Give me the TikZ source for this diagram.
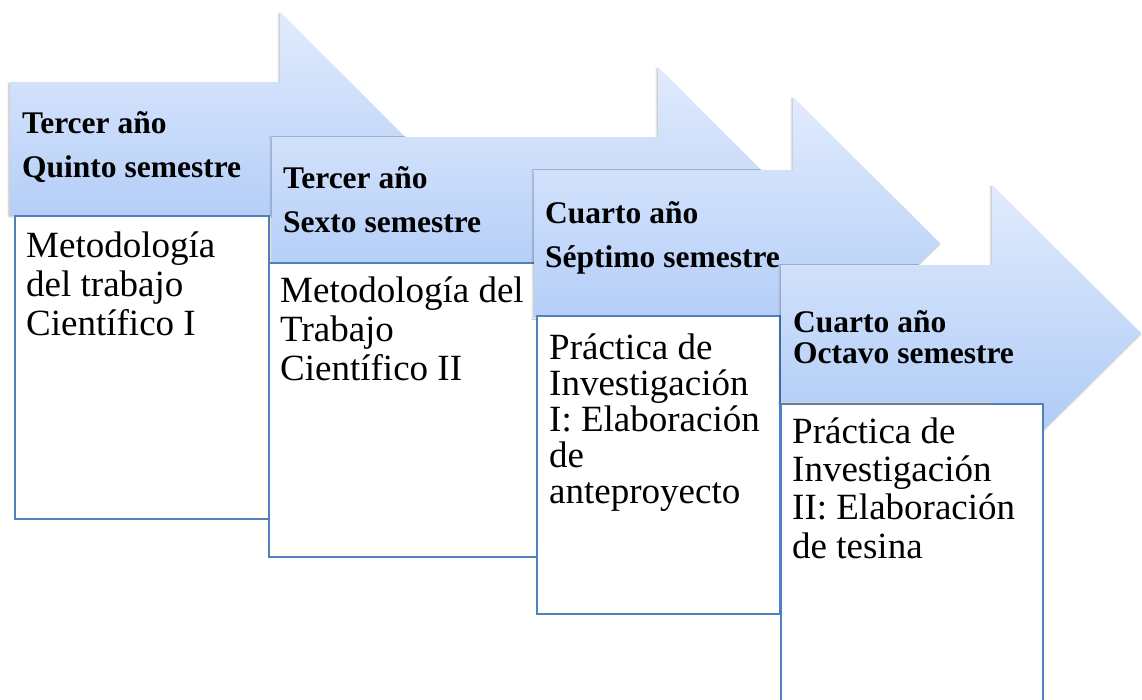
\documentclass[tikz,border=0pt]{standalone}
\usepackage{fontspec}
\setmainfont{Liberation Serif}
\usetikzlibrary{shadows.blur}
\definecolor{arrtop}{RGB}{225,235,253}
\definecolor{arrbot}{RGB}{166,197,246}
\definecolor{boxline}{RGB}{79,129,189}
\begin{document}
\begin{tikzpicture}[x=1pt,y=-1pt]
		\tikzstyle{stage}=[top color=arrtop,bottom color=arrbot,
			blur shadow={shadow xshift=-1pt,shadow yshift=-1.5pt,shadow blur radius=2pt,shadow opacity=30}];
		\tikzstyle{course}=[draw=boxline,line width=1.6pt,fill=white,anchor=north west,inner sep=0pt];
		\tikzstyle{head}=[anchor=base west,align=left,inner sep=0pt,font=\fontsize{31.5}{44}\selectfont\bfseries];
		\tikzstyle{subj}=[anchor=base west,align=left,inner sep=0pt,font=\fontsize{37}{39}\selectfont];
		\clip (0,0) rectangle (1142,699);
		% first year block (text nodes sit on their last baseline)
		\path[stage] (10,82) -- (280,82) -- (280,12) -- (416.5,148.5) -- (280,285) -- (280,215) -- (10,215) -- cycle;
		\node[course,minimum width=254pt,minimum height=303pt] (c1) at (14,215) {};
		\node[head] (h1) at (22,177) {Tercer año\\Quinto semestre};
		\node[subj] (t1) at (26,335) {Metodología\\del trabajo\\Científico I};
		% second block
		\path[stage] (272,137) -- (658,137) -- (658,67) -- (790.5,199.5) -- (658,332) -- (658,262) -- (272,262) -- cycle;
		\node[course,minimum width=268pt,minimum height=294pt] (c2) at (268,262) {};
		\node[head] (h2) at (283,232) {Tercer año\\Sexto semestre};
		\node[subj] (t2) at (280,380) {Metodología del\\Trabajo\\Científico II};
		% third block
		\path[stage] (534,170) -- (793,170) -- (793,97) -- (940,243) -- (793,389) -- (793,316) -- (534,316) -- cycle;
		\node[course,minimum width=243pt,minimum height=298pt] (c3) at (536,315) {};
		\node[head] (h3) at (545,267) {Cuarto año\\Séptimo semestre};
		\node[subj,font=\fontsize{37}{35.8}\selectfont] (t3) at (549,503) {Práctica de\\Investigación\\I: Elaboración\\de\\anteproyecto};
		% fourth block
		\path[stage] (781,265) -- (992,265) -- (992,185) -- (1141,333) -- (992,481) -- (992,401) -- (781,401) -- cycle;
		\node[course,minimum width=262pt,minimum height=310pt] (c4) at (780,403) {};
		\node[head,font=\fontsize{31.5}{31}\selectfont\bfseries] (h4) at (793,363) {Cuarto año\\Octavo semestre};
		\node[subj,font=\fontsize{37}{38.3}\selectfont] (t4) at (792,558) {Práctica de\\Investigación\\II: Elaboración\\de tesina};
\end{tikzpicture}
\end{document}
